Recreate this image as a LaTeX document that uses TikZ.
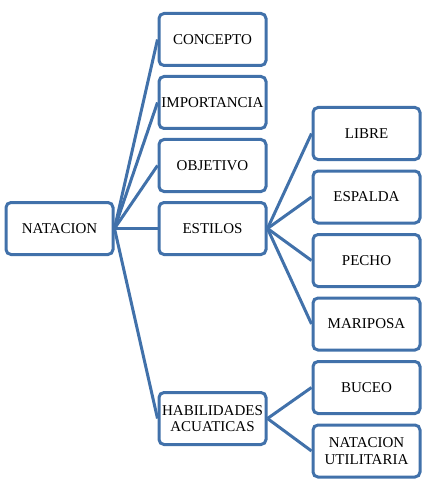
\documentclass[tikz,border=0pt]{standalone}
\usepackage{fontspec}
\setmainfont{Liberation Serif}
\usepackage{xcolor}
\usepackage{tikz}
\usetikzlibrary{positioning}
\definecolor{smartblue}{RGB}{65,113,170}
\tikzset{
  topicbox/.style={draw=smartblue,fill=white,line width=3pt,rounded corners=5pt,align=center,
    minimum width=107pt,minimum height=52pt,inner sep=1pt,font=\fontsize{15}{16.5}\selectfont},
  branchline/.style={draw=smartblue,line width=3pt}
}

\begin{document}
\begin{tikzpicture}[x=1pt,y=1pt]
  \useasboundingbox (0,0) rectangle (423,-489);

  \node[topicbox] (natacion) at (59.5,-228.5) {NATACION};

  \node[topicbox,right=43pt of natacion] (estilos) {ESTILOS};
  \node[topicbox,above=8pt of estilos] (objetivo) {OBJETIVO};
  \node[topicbox,above=8pt of objetivo] (importancia) {IMPORTANCIA};
  \node[topicbox,above=8pt of importancia] (concepto) {CONCEPTO};
  \node[topicbox,below=135pt of estilos] (habilidades) {HABILIDADES\\ACUATICAS};

  \node[topicbox] (libre) at (366.5,-133.5) {LIBRE};
  \node[topicbox,below=8.5pt of libre] (espalda) {ESPALDA};
  \node[topicbox,below=8.5pt of espalda] (pecho) {PECHO};
  \node[topicbox,below=8.5pt of pecho] (mariposa) {MARIPOSA};
  \node[topicbox,below=8.5pt of mariposa] (buceo) {BUCEO};
  \node[topicbox,below=8.5pt of buceo] (utilitaria) {NATACION\\UTILITARIA};

  \foreach \child in {concepto,importancia,objetivo,estilos,habilidades}
    \draw[branchline] (natacion.east) -- (\child.west);
  \foreach \child in {libre,espalda,pecho,mariposa}
    \draw[branchline] (estilos.east) -- (\child.west);
  \foreach \child in {buceo,utilitaria}
    \draw[branchline] (habilidades.east) -- (\child.west);
\end{tikzpicture}
\end{document}
